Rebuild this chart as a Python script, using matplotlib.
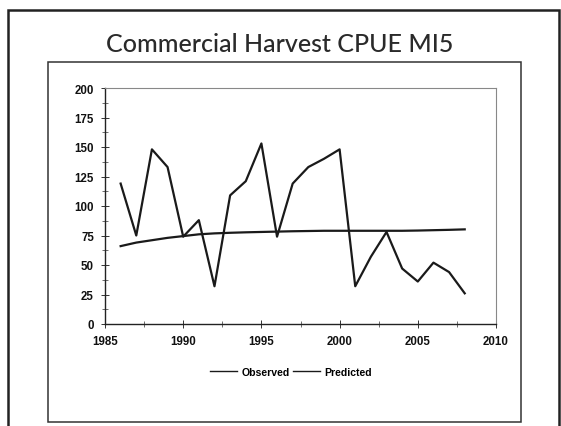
import numpy as np
import matplotlib
matplotlib.use("Agg")
import matplotlib.pyplot as plt
from matplotlib.patches import Rectangle
from matplotlib.ticker import MultipleLocator

# Data
years = list(range(1986, 2009))
observed = [119, 75, 148, 133, 74, 88, 32, 109, 121, 153, 74, 119, 133, 140, 148,
            32, 57, 78, 47, 36, 52, 44, 26]
predicted = [66, 69, 71, 73, 74.5, 76, 76.8, 77.3, 77.7, 78, 78.3, 78.6, 78.8, 79,
             79, 79, 79, 79, 79, 79.2, 79.5, 79.8, 80.2]
title = "Commercial Harvest CPUE MI5"
series_names = ["Observed", "Predicted"]

W, H = 561, 427
fig = plt.figure(figsize=(W / 100, H / 100), dpi=100)

# slide border and chart frame
fig.patches.append(Rectangle((8 / W, -0.05), (559 - 8) / W, 1.05 - 11 / H,
                             transform=fig.transFigure, fill=False,
                             edgecolor="#222222", linewidth=1.8))
fig.patches.append(Rectangle((48 / W, 1 - 423 / H), (521 - 48) / W, (423 - 63) / H,
                             transform=fig.transFigure, fill=False,
                             edgecolor="#333333", linewidth=1.1))

fig.text(280 / W, 1 - 52 / H, title, ha="center", va="baseline",
         fontsize=18, family="Lato", fontweight="medium", color="#2a2a2a")

ax = fig.add_axes([105 / W, 1 - 325 / H, (496 - 105) / W, (325 - 89) / H])
ax.plot(years, observed, color="#1a1a1a", linewidth=1.6, label=series_names[0])
ax.plot(years, predicted, color="#1a1a1a", linewidth=1.6, label=series_names[1])

ax.set_xlim(1985, 2010)
ax.set_ylim(0, 200)
ax.xaxis.set_major_locator(MultipleLocator(5))
ax.yaxis.set_major_locator(MultipleLocator(25))
ax.xaxis.set_minor_locator(MultipleLocator(2.5))
ax.yaxis.set_minor_locator(MultipleLocator(12.5))
ax.tick_params(which="major", direction="inout", length=6, width=0.7, colors="#333333")
ax.tick_params(which="minor", direction="inout", length=4, width=0.6, colors="#555555")
ax.tick_params(axis="both", which="major", labelsize=8.3, labelcolor="#111111", pad=5)
for lab in ax.get_xticklabels() + ax.get_yticklabels():
    lab.set_family("Liberation Sans")
    lab.set_fontweight("bold")

for side in ["top", "right"]:
    ax.spines[side].set_color("#888888")
    ax.spines[side].set_linewidth(0.8)
for side in ["left", "bottom"]:
    ax.spines[side].set_color("#222222")
    ax.spines[side].set_linewidth(1.0)

leg = fig.legend(loc="center", bbox_to_anchor=(291 / W, 1 - 373 / H), ncol=2,
                 frameon=False, handlelength=2.6, handletextpad=0.4, columnspacing=0.3,
                 prop={"family": "Liberation Sans", "weight": "bold", "size": 7.6})
for line in leg.get_lines():
    line.set_linewidth(1.0)

fig.savefig("out.png", dpi=100)
